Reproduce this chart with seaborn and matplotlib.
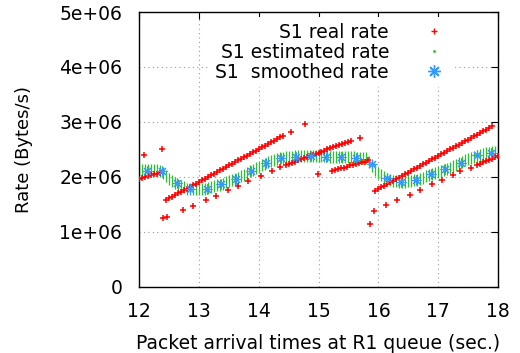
import numpy as np
import pandas as pd
import seaborn as sns
import matplotlib.pyplot as plt
from matplotlib.lines import Line2D

sns.set_style("white")
plt.rcParams['font.family'] = ['DejaVu Sans']
plt.rcParams['text.color'] = 'black'
plt.rcParams['axes.labelcolor'] = 'black'

# real rate (red), segment by segment
real_t = (
    [12.00, 12.05, 12.10, 12.15, 12.20, 12.25, 12.30, 12.35, 12.08, 12.39]
    + [round(12.46 + 0.05 * i, 2) for i in range(40)]
    + [14.54, 14.78]
    + [12.41, 12.47, 12.73, 12.90, 13.12, 13.29, 13.49, 13.66, 13.83, 14.04, 14.22, 14.36]
    + [round(14.45 + 0.05 * i, 2) for i in range(23)]
    + [15.70, 14.99]
    + [round(15.22 + 0.05 * i, 2) for i in range(13)]
    + [15.86, 15.92]
    + [round(15.95 + 0.05 * i, 2) for i in range(40)]
    + [16.13, 16.31, 16.52, 16.69, 16.89, 17.06, 17.25, 17.37, 17.54]
    + [17.65, 17.70, 17.75, 17.80, 17.85, 17.90, 17.95, 18.00]
)
real_r = (
    [1.97, 1.99, 2.00, 2.02, 2.03, 2.05, 2.06, 2.08, 2.40, 2.51]
    + [1.58, 1.61, 1.64, 1.67, 1.70, 1.73, 1.76, 1.79, 1.82, 1.85,
       1.88, 1.91, 1.94, 1.97, 2.00, 2.03, 2.06, 2.09, 2.12, 2.15,
       2.18, 2.21, 2.24, 2.27, 2.30, 2.33, 2.36, 2.39, 2.42, 2.45,
       2.48, 2.51, 2.54, 2.57, 2.60, 2.63, 2.66, 2.69, 2.72, 2.75]
    + [2.82, 2.96]
    + [1.25, 1.27, 1.40, 1.48, 1.58, 1.66, 1.76, 1.84, 1.93, 2.02, 2.11, 2.19]
    + [2.22, 2.24, 2.26, 2.28, 2.30, 2.32, 2.34, 2.36, 2.38, 2.40,
       2.42, 2.44, 2.46, 2.48, 2.50, 2.52, 2.54, 2.56, 2.58, 2.60,
       2.62, 2.64, 2.66]
    + [2.70, 2.05]
    + [2.11, 2.13, 2.14, 2.16, 2.17, 2.19, 2.21, 2.22, 2.24, 2.25, 2.27, 2.28, 2.30]
    + [1.15, 1.39]
    + [1.75, 1.78, 1.81, 1.84, 1.87, 1.90, 1.93, 1.96, 1.99, 2.02,
       2.05, 2.08, 2.11, 2.14, 2.17, 2.20, 2.23, 2.26, 2.29, 2.32,
       2.35, 2.38, 2.41, 2.44, 2.47, 2.50, 2.53, 2.56, 2.59, 2.62,
       2.65, 2.68, 2.71, 2.74, 2.77, 2.80, 2.83, 2.86, 2.89, 2.92]
    + [1.49, 1.58, 1.67, 1.76, 1.87, 1.95, 2.04, 2.10, 2.16]
    + [2.22, 2.24, 2.27, 2.29, 2.31, 2.33, 2.36, 2.38]
)

# estimated rate (green), one value every 0.05 s from 12.00
est_r = [
    2.12, 2.12, 2.12, 2.12, 2.12, 2.12, 2.12, 2.11, 2.07, 2.02,
    1.97, 1.93, 1.89, 1.86, 1.83, 1.81, 1.79, 1.78, 1.78, 1.78,
    1.78, 1.78, 1.79, 1.80, 1.81, 1.83, 1.85, 1.86, 1.88, 1.90,
    1.92, 1.94, 1.96, 1.98, 2.01, 2.04, 2.07, 2.10, 2.13, 2.16,
    2.19, 2.22, 2.24, 2.27, 2.29, 2.31, 2.33, 2.34, 2.35, 2.36,
    2.37, 2.37, 2.38, 2.38, 2.38, 2.39, 2.39, 2.39, 2.39, 2.39,
    2.38, 2.38, 2.38, 2.38, 2.37, 2.37, 2.37, 2.37, 2.37, 2.37,
    2.36, 2.36, 2.36, 2.35, 2.35, 2.35, 2.34, 2.28, 2.20, 2.13,
    2.07, 2.03, 2.00, 1.97, 1.95, 1.93, 1.92, 1.91, 1.91, 1.91,
    1.92, 1.93, 1.94, 1.95, 1.97, 1.99, 2.01, 2.03, 2.05, 2.07,
    2.09, 2.11, 2.13, 2.15, 2.17, 2.20, 2.22, 2.25, 2.27, 2.30,
    2.32, 2.35, 2.37, 2.39, 2.40, 2.42, 2.43, 2.44, 2.45, 2.46,
    2.47,
]
est_t = [round(12.0 + 0.05 * i, 2) for i in range(len(est_r))]

# smoothed rate (blue asterisks)
smooth_t = [12.13, 12.39, 12.63, 12.86, 13.13, 13.37, 13.63, 13.88, 14.12, 14.37,
            14.63, 14.88, 15.13, 15.38, 15.63, 15.89, 16.14, 16.38, 16.63, 16.88,
            17.12, 17.38, 17.64, 17.88]
smooth_r = [2.11, 2.11, 1.89, 1.79, 1.79, 1.87, 1.96, 2.11, 2.25, 2.34,
            2.37, 2.39, 2.37, 2.37, 2.35, 2.23, 1.99, 1.91, 1.95, 2.05,
            2.14, 2.26, 2.40, 2.43]

xticks = [12, 13, 14, 15, 16, 17, 18]
yticks = [0, 1e6, 2e6, 3e6, 4e6, 5e6]
ytick_labels = ['0', '1e+06', '2e+06', '3e+06', '4e+06', '5e+06']

real = pd.DataFrame({'t': real_t, 'rate': np.array(real_r) * 1e6})
est = pd.DataFrame({'t': est_t, 'rate': np.array(est_r) * 1e6})
smooth = pd.DataFrame({'t': smooth_t, 'rate': np.array(smooth_r) * 1e6})

red, green, blue = '#ff0000', '#2fbf2f', '#3399ff'
fs = 13.5

fig = plt.figure(figsize=(5.2, 3.53), dpi=100)
ax = fig.add_axes([0.267, 0.187, 0.691, 0.779])

sns.scatterplot(data=est, x='t', y='rate', marker='|', s=65, linewidth=0.9,
                color=green, ax=ax, zorder=2)
sns.scatterplot(data=real, x='t', y='rate', marker='+', s=14, linewidth=1.1,
                color=red, ax=ax, zorder=3)
sns.scatterplot(data=smooth, x='t', y='rate', marker=(8, 2, 0), s=42, linewidth=0.8,
                color=blue, ax=ax, zorder=4)

ax.set_xlim(12, 18)
ax.set_ylim(0, 5e6)
ax.set_xticks(xticks)
ax.set_xticklabels([str(v) for v in xticks])
ax.set_yticks(yticks)
ax.set_yticklabels(ytick_labels)
ax.tick_params(direction='in', top=True, right=True, length=5, width=0.8,
               labelsize=fs, colors='black')
ax.tick_params(axis='y', pad=12)
ax.tick_params(axis='x', pad=11)
ax.grid(True, linestyle=(0, (1, 3)), color='#999999', linewidth=0.8)
for sp in ax.spines.values():
    sp.set_color('black')
    sp.set_linewidth(1.0)

ax.set_xlabel('Packet arrival times at R1 queue (sec.)', fontsize=fs, labelpad=9)
ax.set_ylabel('Rate (Bytes/s)', fontsize=13, labelpad=19)

handles = [
    Line2D([], [], linestyle='none', marker='+', color=red, markersize=4, markeredgewidth=1),
    Line2D([], [], linestyle='none', marker='.', color=green, markersize=2),
    Line2D([], [], linestyle='none', marker=(8, 2, 0), color=blue, markersize=9, markeredgewidth=1),
]
labels = ['S1 real rate', 'S1 estimated rate', 'S1  smoothed rate']
leg = ax.legend(handles, labels, loc='upper right', bbox_to_anchor=(0.9025, 1.015),
                markerfirst=False, fontsize=fs, handlelength=1.5, handletextpad=1.65,
                labelspacing=0.05, frameon=True, framealpha=1, borderpad=0.3)
leg.get_frame().set_edgecolor('none')
leg.get_frame().set_facecolor('white')
leg.set_zorder(5)

fig.savefig('out.png', dpi=100)
